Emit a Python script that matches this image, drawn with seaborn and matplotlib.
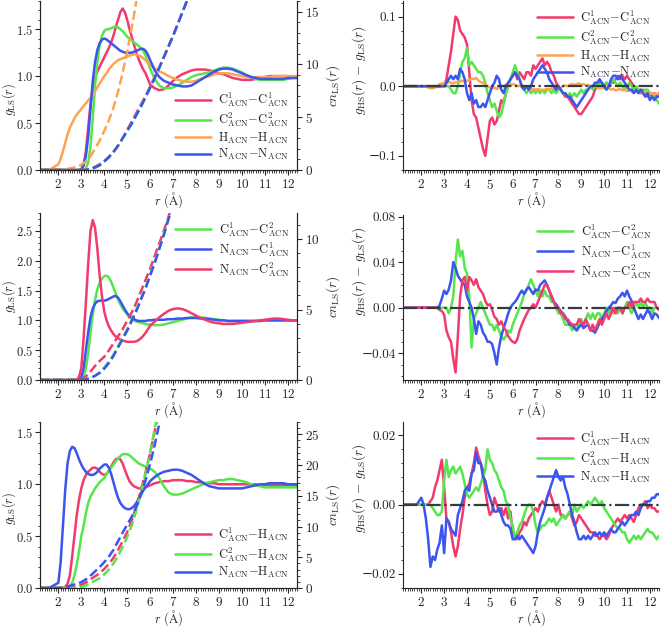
import numpy as np
import matplotlib
matplotlib.use("Agg")
import matplotlib.pyplot as plt
from matplotlib.ticker import AutoMinorLocator, MultipleLocator
import seaborn as sns

# ---------------- grids ----------------
r_g = np.round(np.concatenate([[1.2, 1.6, 2.0], np.arange(2.1, 6.01, 0.1), np.arange(6.2, 12.41, 0.2)]), 2)
r_cn = np.round(np.concatenate([[1.2, 1.6, 2.0], np.arange(2.2, 8.01, 0.2)]), 2)
r_d = np.round(np.arange(1.2, 12.41, 0.1), 2)

# ---------------- top-left g_LS ----------------
g_c1c1 = [0, 0, 0,
          0, 0, 0, 0, 0, 0, 0, 0, 0, 0.005,
          0.05, 0.2, 0.45, 0.7, 0.88, 0.98, 1.05, 1.1, 1.15, 1.2,
          1.25, 1.3, 1.36, 1.43, 1.52, 1.6, 1.68, 1.72, 1.68, 1.6,
          1.5, 1.42, 1.33, 1.25, 1.18, 1.12, 1.07, 1.03, 0.97, 0.91,
          0.87, 0.85, 0.86, 0.9, 0.95, 0.99, 1.02, 1.04, 1.06, 1.07,
          1.07, 1.07, 1.06, 1.05, 1.03, 1.02, 1.0, 0.98, 0.97, 0.96,
          0.96, 0.96, 0.97, 0.98, 0.99, 1.0, 1.0, 1.0, 1.0, 1.0,
          0.99, 0.99]
g_c2c2 = [0, 0, 0,
          0, 0, 0, 0, 0, 0, 0, 0, 0, 0,
          0.0, 0.02, 0.08, 0.25, 0.55, 0.9, 1.15, 1.32, 1.43, 1.48,
          1.5, 1.5, 1.51, 1.52, 1.53, 1.52, 1.5, 1.48, 1.45, 1.42,
          1.4, 1.38, 1.36, 1.34, 1.32, 1.3, 1.27, 1.22, 1.15, 1.08,
          0.97, 0.9, 0.87, 0.87, 0.88, 0.9, 0.93, 0.96, 0.99, 1.01,
          1.02, 1.03, 1.04, 1.06, 1.08, 1.09, 1.09, 1.08, 1.06, 1.04,
          1.01, 0.99, 0.97, 0.96, 0.96, 0.96, 0.96, 0.96, 0.96, 0.97,
          0.98, 0.98]
g_hh = [0, 0, 0.06,
        0.12, 0.2, 0.29, 0.38, 0.45, 0.5, 0.55, 0.59, 0.62, 0.65,
        0.68, 0.71, 0.74, 0.77, 0.8, 0.84, 0.88, 0.92, 0.96, 1.0,
        1.03, 1.07, 1.1, 1.13, 1.15, 1.17, 1.18, 1.19, 1.2, 1.21,
        1.22, 1.23, 1.23, 1.23, 1.22, 1.21, 1.19, 1.17, 1.14, 1.12,
        1.08, 1.05, 1.03, 1.0, 0.98, 0.96, 0.95, 0.94, 0.94, 0.95,
        0.97, 0.99, 1.0, 1.02, 1.03, 1.03, 1.03, 1.02, 1.01, 1.0,
        0.99, 0.99, 0.99, 0.99, 0.99, 0.99, 1.0, 1.0, 1.0, 1.0,
        1.0, 1.0]
g_nn = [0, 0, 0,
        0, 0, 0, 0, 0, 0, 0, 0, 0, 0.01,
        0.05, 0.15, 0.35, 0.65, 0.95, 1.15, 1.28, 1.35, 1.39, 1.4,
        1.39, 1.37, 1.35, 1.33, 1.31, 1.29, 1.27, 1.26, 1.25, 1.25,
        1.25, 1.25, 1.26, 1.27, 1.28, 1.29, 1.29, 1.27, 1.23, 1.17,
        1.06, 0.99, 0.95, 0.93, 0.91, 0.9, 0.89, 0.89, 0.9, 0.93,
        0.96, 0.99, 1.02, 1.05, 1.07, 1.08, 1.08, 1.07, 1.05, 1.03,
        1.01, 0.99, 0.98, 0.97, 0.97, 0.97, 0.97, 0.97, 0.97, 0.98,
        0.98, 0.98]
cn_c1c1 = [0] * 8 + [0.02, 0.1, 0.3, 0.55, 0.85, 1.25, 1.7, 2.3, 3.0, 3.8, 4.6, 5.4, 6.2, 7.0,
                     7.9, 8.8, 9.7, 10.7, 11.7, 12.7, 13.8, 14.9, 16.0, 17.2]
cn_c2c2 = [0] * 9 + [0.05, 0.2, 0.45, 0.8, 1.2, 1.7, 2.3, 3.0, 3.7, 4.4, 5.2, 6.0, 6.9, 7.8,
                     8.7, 9.7, 10.7, 11.7, 12.7, 13.8, 14.9, 16.0, 17.2]
cn_hh = [0, 0, 0, 0.05, 0.1, 0.2, 0.3, 0.5, 0.8, 1.3, 2.0, 2.8, 3.7, 4.7, 5.9, 7.4, 9.2,
         11.2, 13.5, 16.0, 18.5]
cn_nn = [0] * 9 + [0.1, 0.25, 0.45, 0.8, 1.2, 1.7, 2.3, 3.0, 3.7, 4.4, 5.2, 6.0, 6.9, 7.8,
                   8.7, 9.7, 10.7, 11.7, 12.7, 13.8, 14.9, 16.0, 17.2]

# ---------------- middle-left g_LS ----------------
g_c1c2 = [0, 0, 0,
          0, 0, 0, 0, 0, 0, 0, 0, 0, 0.01,
          0.05, 0.2, 0.45, 0.8, 1.1, 1.35, 1.52, 1.63, 1.7, 1.74,
          1.75, 1.72, 1.65, 1.55, 1.45, 1.35, 1.27, 1.2, 1.15, 1.1,
          1.06, 1.03, 1.0, 0.98, 0.97, 0.96, 0.95, 0.94, 0.93, 0.93,
          0.92, 0.92, 0.93, 0.95, 0.97, 0.99, 1.01, 1.03, 1.05, 1.05,
          1.05, 1.04, 1.03, 1.02, 1.01, 1.0, 0.99, 0.99, 0.99, 0.99,
          0.99, 0.99, 0.99, 0.99, 1.0, 1.0, 1.0, 1.0, 1.0, 1.0,
          1.0, 1.0]
g_nc1 = [0, 0, 0,
         0, 0, 0, 0, 0, 0, 0, 0, 0.01, 0.05,
         0.2, 0.5, 0.8, 1.05, 1.2, 1.28, 1.32, 1.33, 1.33, 1.33,
         1.34, 1.36, 1.38, 1.4, 1.41, 1.38, 1.32, 1.25, 1.18, 1.12,
         1.07, 1.04, 1.02, 1.0, 0.99, 0.99, 0.99, 0.99, 1.0, 1.0,
         1.01, 1.01, 1.01, 1.02, 1.02, 1.03, 1.03, 1.04, 1.04, 1.04,
         1.03, 1.03, 1.02, 1.01, 1.0, 1.0, 0.99, 0.99, 0.99, 0.99,
         0.99, 0.99, 0.99, 0.99, 1.0, 1.0, 1.0, 1.0, 1.0, 1.0,
         1.0, 1.0]
g_nc2 = [0, 0, 0,
         0, 0, 0, 0, 0, 0, 0, 0, 0.05, 0.2,
         0.7, 1.3, 1.95, 2.5, 2.68, 2.55, 2.2, 1.75, 1.4, 1.15,
         1.0, 0.9, 0.83, 0.77, 0.73, 0.7, 0.68, 0.66, 0.65, 0.64,
         0.64, 0.64, 0.64, 0.65, 0.67, 0.7, 0.74, 0.79, 0.85, 0.91,
         0.98, 1.05, 1.11, 1.16, 1.19, 1.2, 1.19, 1.16, 1.12, 1.08,
         1.04, 1.01, 0.98, 0.96, 0.95, 0.94, 0.94, 0.94, 0.95, 0.96,
         0.97, 0.98, 0.99, 1.0, 1.01, 1.02, 1.03, 1.03, 1.02, 1.01,
         1.0, 1.0]
cn_c1c2 = [0] * 8 + [0.02, 0.1, 0.3, 0.55, 0.9, 1.3, 1.8, 2.4, 3.0, 3.6, 4.3, 5.0, 5.8, 6.6,
                     7.5, 8.4, 9.4, 10.4, 11.5, 12.6]
cn_nc1 = [0] * 8 + [0.05, 0.15, 0.3, 0.5, 0.8, 1.2, 1.7, 2.3, 2.9, 3.5, 4.2, 4.9, 5.7, 6.5,
                    7.4, 8.3, 9.3, 10.3, 11.4, 12.5]
cn_nc2 = [0] * 7 + [0.05, 0.25, 0.6, 1.0, 1.35, 1.65, 2.1, 2.6, 3.1, 3.6, 4.2, 4.8, 5.5, 6.3,
                    7.1, 7.9, 8.8, 9.7, 10.6, 11.6, 12.6]

# ---------------- bottom-left g_LS ----------------
g_c1h = [0, 0, 0,
         0, 0, 0.01, 0.04, 0.12, 0.3, 0.5, 0.7, 0.85, 0.96,
         1.04, 1.09, 1.12, 1.14, 1.16, 1.16, 1.15, 1.12, 1.1, 1.09,
         1.1, 1.13, 1.17, 1.21, 1.24, 1.25, 1.24, 1.2, 1.14, 1.08,
         1.03, 1.0, 0.98, 0.97, 0.96, 0.96, 0.96, 0.97, 0.98, 0.99,
         1.01, 1.02, 1.03, 1.03, 1.04, 1.04, 1.04, 1.03, 1.03, 1.02,
         1.02, 1.01, 1.01, 1.01, 1.0, 1.0, 1.0, 1.0, 1.0, 1.0,
         1.0, 1.0, 1.0, 0.99, 0.99, 0.99, 0.99, 0.99, 0.99, 0.99,
         0.99, 0.99]
g_c2h = [0, 0, 0,
         0, 0, 0, 0, 0.02, 0.05, 0.12, 0.22, 0.35, 0.5,
         0.6, 0.72, 0.82, 0.88, 0.92, 0.96, 0.99, 1.02, 1.04, 1.06,
         1.1, 1.13, 1.16, 1.19, 1.22, 1.25, 1.27, 1.29, 1.29, 1.29,
         1.28, 1.26, 1.24, 1.22, 1.2, 1.19, 1.18, 1.17, 1.16, 1.15,
         1.12, 1.06, 0.98, 0.92, 0.9, 0.9, 0.91, 0.93, 0.95, 0.97,
         0.99, 1.01, 1.02, 1.03, 1.04, 1.04, 1.05, 1.05, 1.04, 1.03,
         1.02, 1.0, 0.99, 0.98, 0.97, 0.97, 0.97, 0.97, 0.97, 0.97,
         0.97, 0.97]
g_nh = [0, 0, 0.05,
        0.25, 0.6, 0.95, 1.2, 1.32, 1.36, 1.35, 1.3, 1.24, 1.19,
        1.15, 1.12, 1.1, 1.09, 1.09, 1.1, 1.12, 1.15, 1.17, 1.19,
        1.19, 1.16, 1.1, 1.02, 0.94, 0.87, 0.82, 0.79, 0.77, 0.76,
        0.76, 0.77, 0.79, 0.82, 0.86, 0.9, 0.94, 0.97, 1.0, 1.03,
        1.07, 1.1, 1.12, 1.13, 1.14, 1.14, 1.13, 1.11, 1.09, 1.06,
        1.03, 1.0, 0.98, 0.97, 0.96, 0.96, 0.96, 0.96, 0.96, 0.96,
        0.97, 0.98, 0.99, 1.0, 1.0, 1.01, 1.01, 1.01, 1.01, 1.0,
        1.0, 1.0]
cn_c1h = [0] * 5 + [0.05, 0.2, 0.5, 0.9, 1.4, 1.9, 2.4, 3.1, 3.9, 4.9, 6.2, 7.6, 9.1, 11.0,
                    13.3, 15.9, 18.8, 22.0, 25.5, 29.0]
cn_c2h = [0] * 6 + [0.05, 0.15, 0.4, 0.8, 1.2, 1.6, 2.2, 3.0, 4.0, 5.2, 6.7, 8.3, 10.2, 12.6,
                    15.4, 18.6, 22.1, 25.9, 29.8]
cn_nh = [0] * 3 + [0.05, 0.2, 0.45, 0.7, 0.95, 1.4, 2.0, 2.7, 3.4, 4.2, 5.1, 6.2, 7.6, 9.0,
                   10.3, 11.6, 13.2, 15.2, 17.5, 20.2, 23.3, 26.7, 30.0]

# ---------------- top-right g_HS - g_LS ----------------
d_c1c1 = [0] * 9 + [
    0, 0, 0, 0, 0, 0, 0, 0, 0, 0,
    0.01, 0.03, 0.05, 0.075, 0.1, 0.095, 0.08, 0.075, 0.07, 0.06,
    0.02, -0.02, -0.04, -0.045, -0.06, -0.075, -0.09, -0.1, -0.075, -0.05,
    -0.045, -0.055, -0.05, -0.035, -0.02, -0.025, -0.01, 0.0, 0.01, 0.015,
    0.02, 0.01, 0.02, 0.015, 0.01, 0.02, 0.02, 0.015, 0.03, 0.025,
    0.03, 0.035, 0.04, 0.03, 0.035, 0.03, 0.02, 0.015, 0.005, 0.0,
    -0.005, -0.01, -0.015, -0.015, -0.02, -0.025, -0.03, -0.035, -0.04, -0.04,
    -0.035, -0.03, -0.025, -0.02, -0.015, -0.005, 0.0, 0.005, 0.0, 0.0,
    0.005, 0.0, 0.005, 0.005, 0.01, 0.015, 0.01, 0.015, 0.01, 0.015,
    0.01, 0.005, 0.0, -0.005, -0.005, -0.01, -0.005, -0.01, -0.015, -0.01,
    -0.015, -0.01, -0.015, -0.01]
d_c2c2 = [0] * 9 + [
    0, 0, 0, 0, 0, 0, 0, 0, 0, 0,
    0.0, 0.0, -0.005, -0.01, -0.01, 0.0, 0.02, 0.035, 0.04, 0.055,
    0.03, 0.035, 0.03, 0.025, 0.02, 0.02, 0.015, 0.005, -0.01, -0.02,
    -0.03, -0.025, -0.035, -0.045, -0.04, -0.025, -0.01, 0.0, 0.01, 0.02,
    0.03, 0.02, 0.01, 0.0, -0.005, -0.01, -0.005, -0.01, -0.005, -0.01,
    -0.005, -0.01, -0.005, -0.01, -0.005, -0.005, -0.01, -0.005, -0.01, -0.005,
    -0.005, -0.01, -0.01, -0.015, -0.01, -0.015, -0.01, -0.015, -0.01, -0.005,
    -0.01, -0.005, -0.005, 0.0, -0.005, 0.0, 0.005, 0.0, 0.005, 0.0,
    0.005, 0.0, 0.005, 0.01, 0.005, 0.0, 0.005, 0.0, -0.005, 0.0,
    0.005, 0.0, -0.005, 0.0, -0.005, -0.005, -0.01, -0.005, -0.005, -0.01,
    -0.01, -0.015, -0.02, -0.025]
d_hh = [0] * 9 + [
    0, 0, -0.002, -0.003, -0.003, -0.002, 0.0, 0.003, 0.004, 0.003,
    0.004, 0.006, 0.005, 0.004, 0.006, 0.005, 0.007, 0.008, 0.006, 0.008,
    0.009, 0.011, 0.01, 0.012, 0.008, 0.006, 0.005, 0.002, 0.0, -0.002,
    -0.003, -0.002, -0.004, -0.002, 0.0, 0.0, 0.002, 0.003, 0.002, 0.003,
    0.002, 0.0, 0.001, -0.002, -0.003, -0.002, -0.004, -0.005, -0.004, -0.005,
    -0.004, -0.005, -0.006, -0.005, -0.004, -0.005, -0.003, -0.004, -0.002, -0.003,
    -0.002, 0.0, 0.001, 0.0, 0.002, 0.003, 0.002, 0.003, 0.004, 0.002,
    0.003, 0.001, 0.002, 0.0, -0.001, 0.0, -0.002, -0.003, -0.002, -0.003,
    -0.004, -0.003, -0.005, -0.004, -0.006, -0.005, -0.004, -0.006, -0.005, -0.007,
    -0.006, -0.008, -0.007, -0.008, -0.009, -0.008, -0.01, -0.009, -0.01, -0.011,
    -0.01, -0.012, -0.011, -0.012]
d_nn = [0] * 9 + [
    0, 0, 0, 0, 0, 0, 0, 0, 0, 0,
    0.005, 0.01, 0.015, 0.01, 0.015, 0.01, 0.025, 0.02, 0.01, -0.01,
    -0.02, -0.01, -0.025, -0.02, -0.03, -0.03, -0.025, -0.03, -0.02, -0.01,
    0.0, 0.005, 0.015, 0.01, -0.005, -0.01, 0.0, 0.005, 0.01, 0.015,
    0.02, 0.015, 0.01, 0.0, -0.005, 0.0, -0.005, 0.0, 0.01, 0.015,
    0.02, 0.025, 0.03, 0.025, 0.02, 0.01, 0.005, 0.0, -0.005, 0.0,
    -0.005, -0.01, -0.01, -0.015, -0.015, -0.02, -0.025, -0.03, -0.025, -0.02,
    -0.015, -0.01, -0.005, 0.0, 0.0, 0.005, 0.005, 0.01, 0.005, 0.0,
    -0.005, 0.0, 0.01, 0.015, 0.015, 0.01, 0.015, 0.01, 0.005, 0.0,
    -0.005, -0.005, -0.01, -0.005, -0.01, -0.005, -0.01, -0.015, -0.01, -0.02,
    -0.015, -0.02, -0.015, -0.015]

# ---------------- middle-right ----------------
d_c1c2 = [0] * 9 + [
    0, 0, 0, 0, 0, 0, 0, 0, 0, 0,
    0.0, -0.005, 0.0, 0.01, 0.04, 0.06, 0.045, 0.05, 0.035, 0.03,
    0.01, -0.035, -0.01, -0.005, 0.0, 0.005, 0.0, -0.005, -0.01, -0.015,
    -0.015, -0.02, -0.015, -0.02, -0.025, -0.028, -0.025, -0.02, -0.022, -0.015,
    -0.01, -0.005, 0.0, 0.005, 0.012, 0.015, 0.02, 0.025, 0.02, 0.015,
    0.01, 0.015, 0.01, 0.015, 0.01, 0.01, 0.005, 0.005, 0.0, -0.005,
    -0.005, -0.01, -0.015, -0.015, -0.015, -0.02, -0.015, -0.02, -0.015, -0.01,
    -0.015, -0.01, -0.005, -0.01, -0.005, -0.01, -0.005, -0.005, -0.01, -0.005,
    0.0, -0.005, 0.0, -0.005, 0.0, -0.005, 0.0, -0.005, 0.0, 0.005,
    0.0, -0.005, 0.0, 0.005, 0.0, 0.005, 0.0, 0.005, 0.0, 0.0,
    -0.005, 0.0, 0.0, -0.002]
d_nc1 = [0] * 9 + [
    0, 0, 0, 0, 0, 0, 0, 0.002, 0.008, 0.015,
    0.012, 0.016, 0.024, 0.04, 0.035, 0.028, 0.025, 0.022, 0.02, 0.01,
    0.005, 0.0, -0.01, -0.023, -0.012, -0.015, -0.022, -0.025, -0.03, -0.03,
    -0.032, -0.04, -0.05, -0.035, -0.025, -0.018, -0.012, -0.005, 0.0, 0.003,
    0.005, 0.008, 0.012, 0.015, 0.012, 0.016, 0.018, 0.015, 0.012, 0.016,
    0.015, 0.02, 0.022, 0.024, 0.02, 0.015, 0.01, 0.005, 0.003, 0.0,
    -0.003, -0.005, -0.008, -0.012, -0.015, -0.015, -0.018, -0.02, -0.017, -0.015,
    -0.018, -0.016, -0.015, -0.02, -0.02, -0.022, -0.018, -0.013, -0.01, -0.007,
    -0.003, 0.0, 0.002, 0.005, 0.004, 0.008, 0.01, 0.013, 0.01, 0.015,
    0.01, 0.006, 0.0, -0.005, -0.01, -0.006, -0.01, -0.006, -0.002, -0.005,
    -0.01, -0.005, -0.006, -0.009]
d_nc2 = [0] * 9 + [
    0, 0, 0, 0, 0, 0, 0, -0.002, -0.003, -0.006,
    -0.02, -0.026, -0.03, -0.045, -0.057, -0.025, 0.01, 0.024, 0.027, 0.015,
    0.027, 0.024, 0.02, 0.025, 0.018, 0.015, 0.012, 0.006, 0.002, 0.003,
    -0.002, -0.008, -0.01, -0.015, -0.012, -0.017, -0.02, -0.025, -0.028, -0.03,
    -0.031, -0.028, -0.02, -0.015, -0.01, -0.006, -0.002, 0.0, 0.003, 0.0,
    0.005, 0.01, 0.015, 0.02, 0.02, 0.015, 0.01, 0.005, 0.0, 0.0,
    -0.005, -0.005, -0.01, -0.01, -0.013, -0.015, -0.015, -0.015, -0.01, -0.013,
    -0.015, -0.01, -0.015, -0.02, -0.015, -0.02, -0.015, -0.01, -0.015, -0.01,
    -0.005, -0.01, -0.005, 0.0, -0.005, 0.0, 0.0, -0.005, 0.0, 0.0,
    0.005, 0.0, 0.005, 0.005, 0.005, 0.008, 0.005, 0.005, 0.008, 0.005,
    0.005, 0.005, 0.0, -0.002]

# ---------------- bottom-right ----------------
d_c1h = [0] * 9 + [
    0, 0, 0.0, 0.001, 0.002, 0.005, 0.007, 0.01, 0.013, 0.005,
    -0.004, -0.005, -0.008, -0.012, -0.015, -0.012, -0.007, -0.003, 0.002, 0.005,
    0.006, 0.009, 0.012, 0.0165, 0.014, 0.012, 0.01, 0.004, 0.0, -0.003,
    -0.002, 0.002, 0.0, -0.002, -0.001, -0.003, -0.001, -0.004, -0.002, -0.008,
    -0.009, -0.01, -0.008, -0.007, -0.005, -0.006, -0.004, -0.003, -0.002, -0.001,
    -0.002, 0.0, 0.001, 0.0, 0.002, 0.004, 0.002, 0.0, -0.002, 0.0,
    -0.003, -0.003, -0.004, -0.003, -0.002, -0.004, -0.006, -0.005, -0.003, -0.004,
    -0.005, -0.006, -0.007, -0.008, -0.008, -0.009, -0.009, -0.01, -0.009, -0.009,
    -0.01, -0.009, -0.007, -0.006, -0.005, -0.004, -0.005, -0.004, -0.003, -0.004,
    -0.003, -0.004, -0.005, -0.003, -0.001, 0.0, 0.0, 0.001, -0.001, 0.0,
    -0.001, -0.001, -0.002, -0.002]
d_c2h = [0] * 9 + [
    0, 0, 0, 0, -0.001, -0.002, -0.003, -0.003, -0.002, 0.007,
    0.013, 0.008, 0.01, 0.011, 0.009, 0.01, 0.011, 0.009, 0.006, 0.003,
    0.002, 0.003, 0.004, 0.005, 0.004, 0.006, 0.008, 0.01, 0.016, 0.013,
    0.012, 0.01, 0.009, 0.007, 0.005, 0.004, 0.001, 0.0, -0.004, -0.006,
    -0.01, -0.008, -0.006, -0.005, -0.003, -0.001, 0.0, 0.0, -0.002, -0.006,
    -0.008, -0.007, -0.006, -0.006, -0.005, -0.004, -0.005, -0.004, -0.006, -0.005,
    -0.004, -0.003, -0.004, -0.003, -0.002, -0.003, 0.0, -0.002, -0.001, 0.0,
    -0.001, 0.0, 0.001, 0.0, 0.001, 0.002, 0.001, 0.0, 0.001, -0.001,
    -0.002, -0.003, -0.004, -0.005, -0.006, -0.007, -0.007, -0.008, -0.008, -0.01,
    -0.011, -0.01, -0.009, -0.01, -0.009, -0.01, -0.009, -0.008, -0.007, -0.008,
    -0.008, -0.009, -0.01, -0.009]
d_nh = [0, 0, 0, 0, 0, 0, 0, 0.001, 0.002] + [
    0.0, -0.004, -0.01, -0.018, -0.015, -0.016, -0.013, -0.011, -0.006, -0.014,
    -0.004, -0.005, -0.007, -0.008, -0.009, -0.003, -0.001, 0.001, 0.004, 0.005,
    0.004, 0.009, 0.01, 0.015, 0.012, 0.012, 0.008, 0.007, 0.004, 0.002,
    0.0, -0.002, -0.002, -0.001, -0.003, -0.005, -0.006, -0.006, -0.007, -0.01,
    -0.01, -0.009, -0.01, -0.009, -0.01, -0.011, -0.012, -0.013, -0.014, -0.012,
    -0.008, -0.005, -0.003, -0.001, 0.002, 0.004, 0.006, 0.008, 0.01, 0.008,
    0.007, 0.008, 0.005, 0.003, 0.0, -0.003, -0.005, -0.008, -0.01, -0.01,
    -0.009, -0.01, -0.009, -0.01, -0.009, -0.008, -0.009, -0.008, -0.009, -0.008,
    -0.009, -0.008, -0.007, -0.008, -0.008, -0.007, -0.006, -0.005, -0.006, -0.005,
    -0.004, -0.003, -0.003, -0.002, -0.003, -0.001, 0.0, 0.0, 0.001, 0.001,
    0.002, 0.002, 0.003, 0.003]

# ---------------- labels & colours ----------------
PINK, GREEN, ORANGE, BLUE = "#f23a6c", "#55e64b", "#ffa352", "#3b55f0"

def lab(a, b):
    return r"$\mathrm{" + a + "{-}" + b + "}$"

L_c1c1 = lab("C^1_{ACN}", "C^1_{ACN}")
L_c2c2 = lab("C^2_{ACN}", "C^2_{ACN}")
L_hh = lab("H_{ACN}", "H_{ACN}")
L_nn = lab("N_{ACN}", "N_{ACN}")
L_c1c2 = lab("C^1_{ACN}", "C^2_{ACN}")
L_nc1 = lab("N_{ACN}", "C^1_{ACN}")
L_nc2 = lab("N_{ACN}", "C^2_{ACN}")
L_c1h = lab("C^1_{ACN}", "H_{ACN}")
L_c2h = lab("C^2_{ACN}", "H_{ACN}")
L_nh = lab("N_{ACN}", "H_{ACN}")

# ---------------- style ----------------
sns.set_style("ticks")
plt.rcParams.update({
    "font.family": ["cmr10", "DejaVu Serif"],
    "mathtext.fontset": "cm",
    "axes.formatter.use_mathtext": True,
    "font.size": 9.5,
    "axes.linewidth": 0.8,
    "xtick.major.size": 3.5, "ytick.major.size": 3.5,
    "xtick.minor.size": 1.8, "ytick.minor.size": 1.8,
    "xtick.major.width": 0.8, "ytick.major.width": 0.8,
    "xtick.minor.width": 0.6, "ytick.minor.width": 0.6,
    "xtick.major.pad": 2.5, "ytick.major.pad": 2.5,
    "xtick.labelsize": 9.5, "ytick.labelsize": 9.5,
    "axes.unicode_minus": True,
})

fig = plt.figure(figsize=(6.61, 6.29), dpi=100)
W = 661.0
H = 629.0

def add_ax(x0, x1, y0, y1):
    return fig.add_axes([x0 / W, 1 - y1 / H, (x1 - x0) / W, (y1 - y0) / H])

LW = 1.8
XLIM = (1.2, 12.4)
LEG = dict(frameon=False, fontsize=9, handlelength=2.9, labelspacing=0.12,
           handletextpad=0.6, borderaxespad=0.2)
XLABEL = r"$r\ (\mathrm{Å})$"

def style_x(ax, hpx):
    ax.set_xlim(*XLIM)
    ax.set_xticks(range(2, 13))
    ax.xaxis.set_minor_locator(AutoMinorLocator(10))
    ax.set_xlabel(XLABEL, fontsize=9)
    ax.xaxis.set_label_coords(0.5, -20.0 / hpx)

def left_panel(y0, y1, gl, cl, ylim, cnlim, gticks, cnticks, legloc, ylab_y):
    ax = add_ax(40, 297, y0, y1)
    ax2 = ax.twinx()
    for r, v, c, l in gl:
        sns.lineplot(x=r, y=v, ax=ax, color=c, lw=LW, label=l, estimator=None, sort=False)
    for v, c in cl:
        sns.lineplot(x=r_cn[:len(v)], y=v, ax=ax2, color=c, lw=LW, ls="--",
                     estimator=None, sort=False, legend=False)
    style_x(ax, y1 - y0)
    ax.set_ylim(*ylim)
    ax.set_yticks(gticks)
    ax.yaxis.set_minor_locator(AutoMinorLocator(5))
    ax.tick_params(axis="y", pad=1.5, labelsize=9)
    ax.set_ylabel(r"$g_{\rm LS}(r)$", fontsize=9)
    ax.yaxis.set_label_coords(-0.086, ylab_y)
    ax2.set_ylim(*cnlim)
    ax2.set_yticks(cnticks)
    ax2.yaxis.set_minor_locator(AutoMinorLocator(5))
    ax2.tick_params(axis="y", pad=2)
    ax2.set_ylabel(r"$cn_{\rm LS}(r)$", fontsize=9.5)
    ax2.yaxis.set_label_coords(1.107, 0.5)
    for a in (ax, ax2):
        a.spines["top"].set_visible(False)
    ax.legend(loc=legloc, **LEG)
    return ax

def right_panel(y0, y1, dl, ylim, yticks, yfmt, minor, ylab_y):
    ax = add_ax(403, 659, y0, y1)
    for v, c, l in dl:
        sns.lineplot(x=r_d, y=v, ax=ax, color=c, lw=LW, label=l, estimator=None, sort=False)
    ax.axhline(0, color="#2f3f3f", lw=1.6, ls="-.", zorder=5)
    style_x(ax, y1 - y0)
    ax.set_ylim(*ylim)
    ax.set_yticks(yticks)
    ax.set_yticklabels([yfmt.format(t).replace("-", "\u2212") for t in yticks])
    ax.yaxis.set_minor_locator(MultipleLocator(minor))
    ax.tick_params(axis="y", pad=1.5)
    ax.set_ylabel(r"$g_{\rm HS}(r)\,-\,g_{\rm LS}(r)$", fontsize=9.5)
    ax.yaxis.set_label_coords(-0.137, ylab_y)
    sns.despine(ax=ax)
    ax.legend(loc="upper right", **LEG)
    return ax

# top row
left_panel(1, 170,
           [(r_g, g_c1c1, PINK, L_c1c1), (r_g, g_c2c2, GREEN, L_c2c2),
            (r_g, g_hh, ORANGE, L_hh), (r_g, g_nn, BLUE, L_nn)],
           [(cn_c1c1, PINK), (cn_c2c2, GREEN), (cn_hh, ORANGE), (cn_nn, BLUE)],
           (0, 1.8), (0, 16), [0, 0.5, 1.0, 1.5], [0, 5, 10, 15], "lower right", 0.42)
right_panel(1, 170,
            [(d_c1c1, PINK, L_c1c1), (d_c2c2, GREEN, L_c2c2),
             (d_hh, ORANGE, L_hh), (d_nn, BLUE, L_nn)],
            (-0.1204, 0.1224), [-0.1, 0.0, 0.1], "{:.1f}", 0.02, 0.59)

# middle row
left_panel(213, 380,
           [(r_g, g_c1c2, GREEN, L_c1c2), (r_g, g_nc1, BLUE, L_nc1), (r_g, g_nc2, PINK, L_nc2)],
           [(cn_nc2, PINK), (cn_c1c2, GREEN), (cn_nc1, BLUE)],
           (0, 2.8), (0, 11.85), [0, 0.5, 1.0, 1.5, 2.0, 2.5], [0, 5, 10], "upper right", 0.5)
right_panel(215, 380,
            [(d_c1c2, GREEN, L_c1c2), (d_nc1, BLUE, L_nc1), (d_nc2, PINK, L_nc2)],
            (-0.0636, 0.0815), [-0.04, 0.0, 0.04, 0.08], "{:.2f}", 0.01, 0.66)

# bottom row
left_panel(422, 588,
           [(r_g, g_c1h, PINK, L_c1h), (r_g, g_c2h, GREEN, L_c2h), (r_g, g_nh, BLUE, L_nh)],
           [(cn_c1h, PINK), (cn_c2h, GREEN), (cn_nh, BLUE)],
           (0, 1.6), (0, 27), [0, 0.5, 1.0, 1.5], [0, 5, 10, 15, 20, 25], "lower right", 0.48)
right_panel(422, 588,
            [(d_c1h, PINK, L_c1h), (d_c2h, GREEN, L_c2h), (d_nh, BLUE, L_nh)],
            (-0.0241, 0.0239), [-0.02, 0.0, 0.02], "{:.2f}", 0.004, 0.6)

fig.savefig("out.png", dpi=100)
